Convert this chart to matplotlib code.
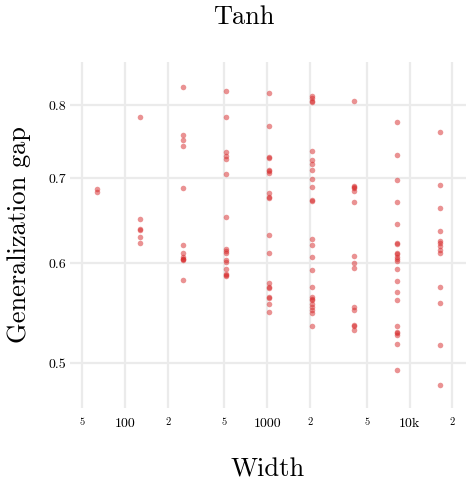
import numpy as np
import matplotlib
matplotlib.use("Agg")
import matplotlib.pyplot as plt

plt.rcParams["font.family"] = ["cmr10", "DejaVu Serif"]
plt.rcParams["axes.formatter.use_mathtext"] = True

# generalization gap per width
gap_64 = [0.686, 0.683]
gap_128 = [0.782, 0.650, 0.638, 0.637, 0.629, 0.622]
gap_256 = [0.827, 0.758, 0.750, 0.742, 0.688, 0.620, 0.611, 0.607, 0.605,
           0.604, 0.603, 0.582]
gap_512 = [0.820, 0.782, 0.734, 0.729, 0.725, 0.706, 0.652, 0.616, 0.613,
           0.611, 0.603, 0.601, 0.594, 0.588, 0.587, 0.586]
gap_1024 = [0.817, 0.770, 0.728, 0.727, 0.711, 0.709, 0.707, 0.681, 0.677,
            0.675, 0.631, 0.611, 0.579, 0.574, 0.573, 0.564, 0.563, 0.557,
            0.549]
gap_2048 = [0.813, 0.810, 0.806, 0.805, 0.736, 0.724, 0.718, 0.711, 0.699,
            0.689, 0.673, 0.672, 0.627, 0.620, 0.607, 0.592, 0.575, 0.564,
            0.562, 0.561, 0.557, 0.554, 0.551, 0.548, 0.535]
gap_4096 = [0.806, 0.690, 0.689, 0.688, 0.684, 0.670, 0.608, 0.600, 0.595,
            0.554, 0.551, 0.536, 0.535, 0.531]
gap_8192 = [0.775, 0.730, 0.698, 0.671, 0.644, 0.622, 0.621, 0.611, 0.610,
            0.607, 0.605, 0.602, 0.594, 0.581, 0.569, 0.561, 0.535, 0.529,
            0.528, 0.526, 0.518, 0.494]
gap_16384 = [0.762, 0.691, 0.663, 0.636, 0.625, 0.622, 0.619, 0.615, 0.611,
             0.574, 0.558, 0.517, 0.481]

widths = [64, 128, 256, 512, 1024, 2048, 4096, 8192, 16384]
gaps = [gap_64, gap_128, gap_256, gap_512, gap_1024, gap_2048, gap_4096,
        gap_8192, gap_16384]

x_ticks = [50, 100, 200, 500, 1000, 2000, 5000, 10000, 20000]
x_labels = ["5", "100", "2", "5", "1000", "2", "5", "10k", "2"]
y_ticks = [0.5, 0.6, 0.7, 0.8]
y_labels = ["0.5", "0.6", "0.7", "0.8"]

xs = np.concatenate([[w] * len(g) for w, g in zip(widths, gaps)])
ys = np.concatenate(gaps)

fig = plt.figure(figsize=(4.66, 4.82), dpi=100)
ax = fig.add_axes([70 / 466, 1 - 408 / 482, 396 / 466, 346 / 482])

ax.scatter(xs, ys, s=16, color="#d62728", alpha=0.5, linewidths=0, zorder=3)

ax.set_xscale("log")
ax.set_yscale("log")
ax.set_xlim(41.1, 24900)
ax.set_ylim(0.461, 0.865)

ax.xaxis.set_minor_locator(matplotlib.ticker.NullLocator())
ax.yaxis.set_minor_locator(matplotlib.ticker.NullLocator())
ax.set_xticks(x_ticks, x_labels)
ax.set_yticks(y_ticks, y_labels)
for lab in ax.get_xticklabels():
    lab.set_fontsize(10 if len(lab.get_text()) > 1 else 7.5)
for lab in ax.get_yticklabels():
    lab.set_fontsize(10)

ax.tick_params(axis="both", length=0)
ax.tick_params(axis="x", pad=7)
ax.tick_params(axis="y", pad=3)
ax.grid(True, color="#ebebeb", linewidth=1.6)
ax.set_axisbelow(True)
for sp in ax.spines.values():
    sp.set_visible(False)

ax.set_xlabel("Width", fontsize=19, labelpad=20)
ax.set_ylabel("Generalization gap", fontsize=19, labelpad=12)
fig.text(244 / 466, 1 - 17 / 482, "Tanh", fontsize=19, ha="center", va="center")

fig.savefig("out.png", dpi=100)
plt.close(fig)
